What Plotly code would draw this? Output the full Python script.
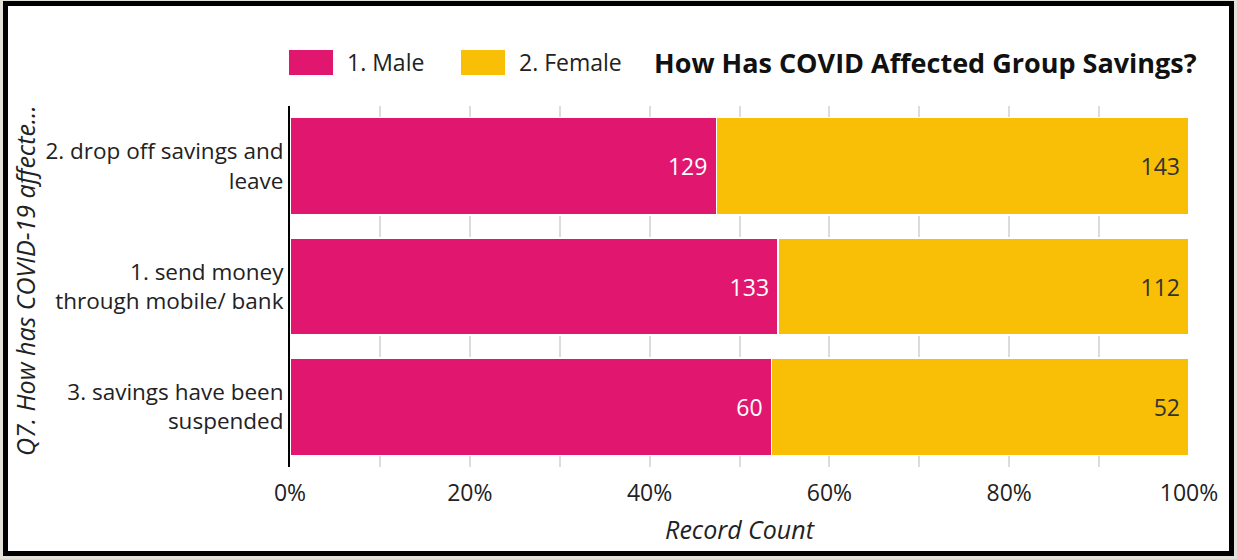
import plotly.graph_objects as go

W, H = 1237, 559
L, R, T, B = 290, 48, 106, 92

categories = [
    "2. drop off savings and<br>leave",
    "1. send money<br>through mobile/ bank",
    "3. savings have been<br>suspended",
]
male = [129, 133, 60]
female = [143, 112, 52]
series_names = ["1. Male", "2. Female"]
colors = ["#e0166f", "#f9be06"]
title_text = "How Has COVID Affected Group Savings?"
y_title = "Q7. How has COVID-19 affecte..."

FONT = "Open Sans"


def px(x):
    return (x - L) / (W - L - R)


def py(y):
    return (H - B - y) / (H - T - B)


fig = go.Figure()
for name, vals, col, tcol in [(series_names[0], male, colors[0], "white"),
                              (series_names[1], female, colors[1], "#333333")]:
    fig.add_trace(go.Bar(
        y=categories, x=vals, name=name, orientation="h",
        marker=dict(color=col, line=dict(color="white", width=1.5)),
        text=vals, texttemplate="%{text}\u00a0", textposition="inside",
        insidetextanchor="end",
        textfont=dict(color=tcol, size=23, family=FONT),
        showlegend=False,
    ))

# frame
shapes = [dict(type="rect", xref="paper", yref="paper",
               x0=px(5.5), x1=px(1231.5), y0=py(3.5), y1=py(553.5),
               line=dict(color="black", width=5), fillcolor="white", layer="below")]

# hand-drawn legend (large swatches)
annotations = []
for i, (name, col) in enumerate(zip(series_names, colors)):
    x0 = 289 + i * 172
    shapes.append(dict(type="rect", xref="paper", yref="paper",
                       x0=px(x0), x1=px(x0 + 44), y0=py(50), y1=py(75),
                       fillcolor=col, line=dict(width=0)))
    annotations.append(dict(text=name, xref="paper", yref="paper",
                            x=px(x0 + 56), y=py(62.5), xanchor="left", yanchor="middle",
                            showarrow=False, font=dict(size=23, family=FONT, color="#222")))
annotations.append(dict(text="<b>" + title_text + "</b>", xref="paper", yref="paper",
                        x=px(1199), y=py(62.5), xanchor="right", yanchor="middle",
                        showarrow=False, font=dict(size=27, family=FONT, color="#111")))
# y axis title, placed by hand
annotations.append(dict(text=y_title, xref="paper", yref="paper", textangle=-90,
                        x=px(25), y=py(281), xanchor="center", yanchor="middle",
                        showarrow=False,
                        font=dict(size=25, family=FONT, style="italic", color="#222")))

fig.update_layout(
    width=W, height=H,
    margin=dict(l=L, r=R, t=T, b=B),
    barmode="stack", barnorm="percent", bargap=0.19,
    paper_bgcolor="#e4e2d8", plot_bgcolor="white",
    font=dict(family=FONT, size=23, color="#222"),
    shapes=shapes, annotations=annotations,
    xaxis=dict(
        range=[0, 100], dtick=20, ticksuffix="%", showgrid=True,
        gridcolor="#dcdcdc", gridwidth=2, zeroline=False,
        minor=dict(dtick=10, showgrid=True, gridcolor="#dcdcdc", gridwidth=2),
        tickfont=dict(size=23, color="#222"),
        title=dict(text="Record Count", font=dict(size=25, style="italic", color="#222"),
                   standoff=14),
        ticks="", ticklabelstandoff=10,
    ),
    yaxis=dict(
        categoryorder="array", categoryarray=categories, autorange="reversed",
        showline=True, linecolor="black", linewidth=2, showgrid=False,
        tickfont=dict(size=22.5, color="#222"), ticks="", ticklabelstandoff=0,
    ),
)

fig.write_html("out.html", config={"displayModeBar": False},
               post_script="document.body.style.margin='0';")
